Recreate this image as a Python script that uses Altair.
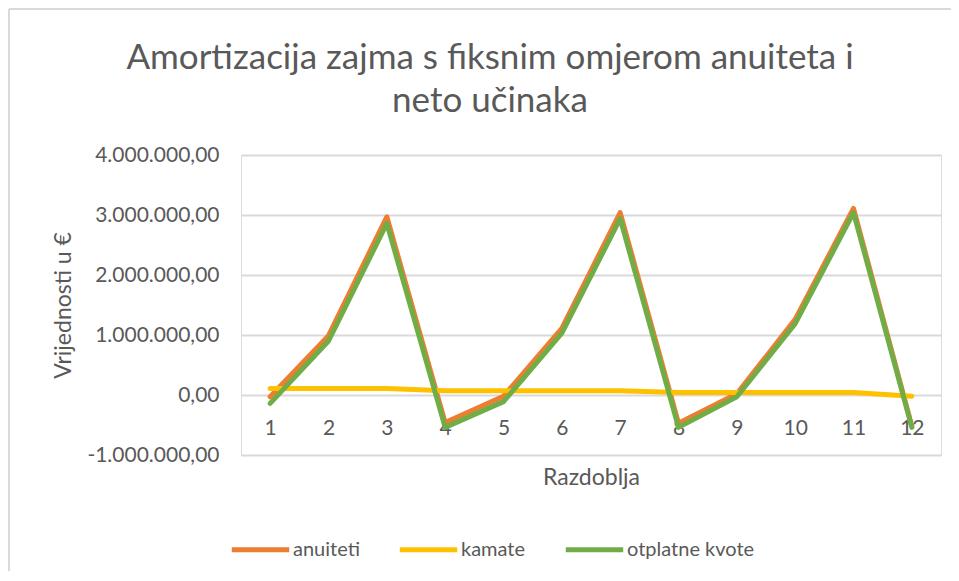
import altair as alt
import pandas as pd

periods = list(range(1, 13))
anuiteti = [-30000, 990000, 2970000, -460000, -20000, 1110000, 3040000, -470000, 20000, 1260000, 3110000, -520000]
kamate = [110000, 110000, 110000, 70000, 70000, 70000, 70000, 40000, 40000, 40000, 40000, -20000]
otplatne_kvote = [-140000, 900000, 2860000, -540000, -110000, 1030000, 2940000, -540000, -30000, 1190000, 3040000, -540000]

series_names = ["anuiteti", "kamate", "otplatne kvote"]
series_colors = ["#ED7D31", "#FFC000", "#70AD47"]
y_ticks = [-1000000, 0, 1000000, 2000000, 3000000, 4000000]
title_text = "Amortizacija zajma s fiksnim omjerom anuiteta i\nneto učinaka"

rows = []
for name, vals in zip(series_names, [anuiteti, kamate, otplatne_kvote]):
    for p, v in zip(periods, vals):
        rows.append({"Razdoblje": p, "Vrijednost": v, "Serija": name})
df = pd.DataFrame(rows)

TEXT = "#595959"
FONT = "Lato"

label_expr = ("replace(replace(replace(replace(format(datum.value, ',.2f'), regexp(',', 'g'), '#'), "
              "'.', ','), regexp('#', 'g'), '.'), '\u2212', '-')")

lines = alt.Chart(df).mark_line(strokeWidth=5, strokeCap="round", strokeJoin="round").encode(
    x=alt.X("Razdoblje:O",
            scale=alt.Scale(type="point", padding=0.5),
            axis=alt.Axis(title="Razdoblja", labelAngle=0, domain=False, ticks=False,
                          offset=-60, labelPadding=22, titlePadding=28,
                          labelFontSize=21, titleFontSize=23, labelColor=TEXT,
                          titleColor=TEXT, labelFont=FONT, titleFont=FONT,
                          titleFontWeight="normal", grid=False)),
    y=alt.Y("Vrijednost:Q",
            scale=alt.Scale(domain=[-1000000, 4000000], nice=False, zero=False),
            axis=alt.Axis(title="Vrijednosti u €", values=y_ticks, labelExpr=label_expr,
                          domain=False, ticks=False, labelPadding=22, titlePadding=11,
                          labelFontSize=21, titleFontSize=23, labelColor=TEXT,
                          titleColor=TEXT, labelFont=FONT, titleFont=FONT,
                          titleFontWeight="normal", gridColor="#D9D9D9", gridWidth=2)),
    color=alt.Color("Serija:N",
                    scale=alt.Scale(domain=series_names, range=series_colors),
                    legend=alt.Legend(title=None, orient="none", direction="horizontal",
                                      legendX=-12, legendY=363,
                                      symbolType="stroke", symbolSize=3300,
                                      symbolStrokeWidth=5, labelFontSize=20,
                                      labelColor=TEXT, labelFont=FONT, labelOffset=1,
                                      columnPadding=29)),
    detail="Serija:N",
)

one_row = pd.DataFrame({"t": [title_text]})
frame_top = alt.Chart(one_row).mark_rule(color="#D9D9D9", strokeWidth=2).encode(
    x=alt.value(-232), x2=alt.value(720), y=alt.value(-146))
frame_left = alt.Chart(one_row).mark_rule(color="#D9D9D9", strokeWidth=2).encode(
    x=alt.value(-232), y=alt.value(-146), y2=alt.value(430))
title = alt.Chart(one_row).mark_text(
    font=FONT, fontSize=35, color=TEXT, lineBreak="\n", lineHeight=43,
    align="center", baseline="middle").encode(
    text="t:N", x=alt.value(249), y=alt.value(-97))

chart = alt.layer(frame_top, frame_left, title, lines).properties(
    width=700, height=300,
    autosize=alt.AutoSizeParams(type="none"),
    padding={"left": 233, "top": 147, "right": 10, "bottom": 116},
).configure_view(stroke=None).configure(background="white")

chart.save("out.html", embed_options={"renderer": "svg", "actions": False})
